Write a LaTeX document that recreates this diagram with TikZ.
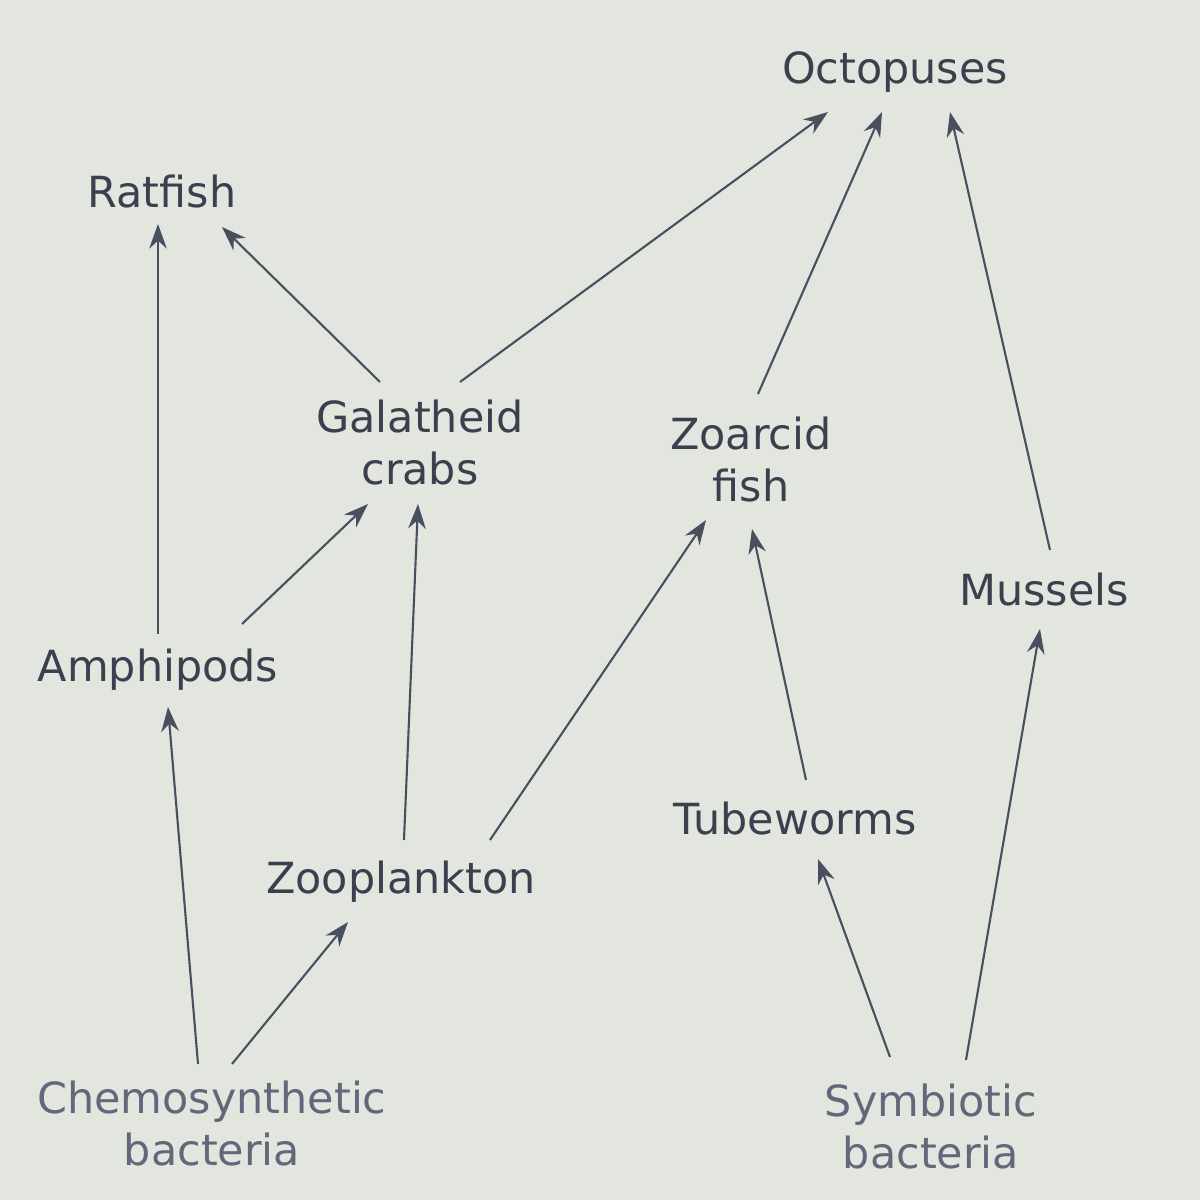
\documentclass[tikz,border=0pt]{standalone}
\usepackage{fontspec}
\setmainfont{DejaVu Sans}
\usetikzlibrary{arrows.meta}
\definecolor{bgc}{RGB}{226,230,223}
\definecolor{txt}{RGB}{58,64,78}
\definecolor{txtl}{RGB}{98,104,122}
\definecolor{lnc}{RGB}{72,80,96}
\tikzset{
  lbl/.style={inner sep=0pt, align=center, text=txt, font=\fontsize{12.2}{14.8}\selectfont},
  lbll/.style={lbl, text=txtl},
  arr/.style={draw=lnc, line width=0.6pt, -{Stealth[length=7pt,width=5pt]}}
}
\begin{document}
\begin{tikzpicture}
\fill[bgc] (0,0) rectangle (12,12);
\useasboundingbox (0,0) rectangle (12,12);
\node[lbl] (octo) at (8.95,11.28) {Octopuses};
\node[lbl] (rat) at (1.62,10.08) {Ratfish};
\node[lbl] (crabs) at (4.20,7.57) {Galatheid\\crabs};
\node[lbl] (zoar) at (7.51,7.40) {Zoarcid\\fish};
\node[lbl] (muss) at (10.44,6.10) {Mussels};
\node[lbl] (amph) at (1.58,5.30) {Amphipods};
\node[lbl] (tube) at (7.95,3.81) {Tubeworms};
\node[lbl] (zoo) at (4.01,3.18) {Zooplankton};
\node[lbll] (chemo) at (2.12,0.76) {Chemosynthetic\\bacteria};
\node[lbll] (symb) at (9.31,0.73) {Symbiotic\\bacteria};

\draw[arr] ([shift={(-0.40,0.61)}]crabs.center) -- ([shift={(0.60,-0.35)}]rat.center);
\draw[arr] ([shift={(0.40,0.61)}]crabs.center) -- ([shift={(-0.67,-0.40)}]octo.center);
\draw[arr] ([shift={(0.07,0.66)}]zoar.center) -- ([shift={(-0.13,-0.40)}]octo.center);
\draw[arr] ([shift={(0.06,0.40)}]muss.center) -- ([shift={(0.55,-0.40)}]octo.center);
\draw[arr] ([shift={(0,0.36)}]amph.center) -- ([shift={(-0.04,-0.32)}]rat.center);
\draw[arr] ([shift={(0.84,0.46)}]amph.center) -- ([shift={(-0.52,-0.61)}]crabs.center);
\draw[arr] ([shift={(0.03,0.42)}]zoo.center) -- ([shift={(-0.02,-0.61)}]crabs.center);
\draw[arr] ([shift={(0.89,0.42)}]zoo.center) -- ([shift={(-0.45,-0.60)}]zoar.center);
\draw[arr] ([shift={(0.11,0.39)}]tube.center) -- ([shift={(0.01,-0.69)}]zoar.center);
\draw[arr] ([shift={(0.35,0.67)}]symb.center) -- ([shift={(-0.04,-0.39)}]muss.center);
\draw[arr] ([shift={(-0.41,0.70)}]symb.center) -- ([shift={(0.23,-0.40)}]tube.center);
\draw[arr] ([shift={(-0.14,0.60)}]chemo.center) -- ([shift={(0.10,-0.37)}]amph.center);
\draw[arr] ([shift={(0.20,0.60)}]chemo.center) -- ([shift={(-0.53,-0.40)}]zoo.center);
\end{tikzpicture}
\end{document}
